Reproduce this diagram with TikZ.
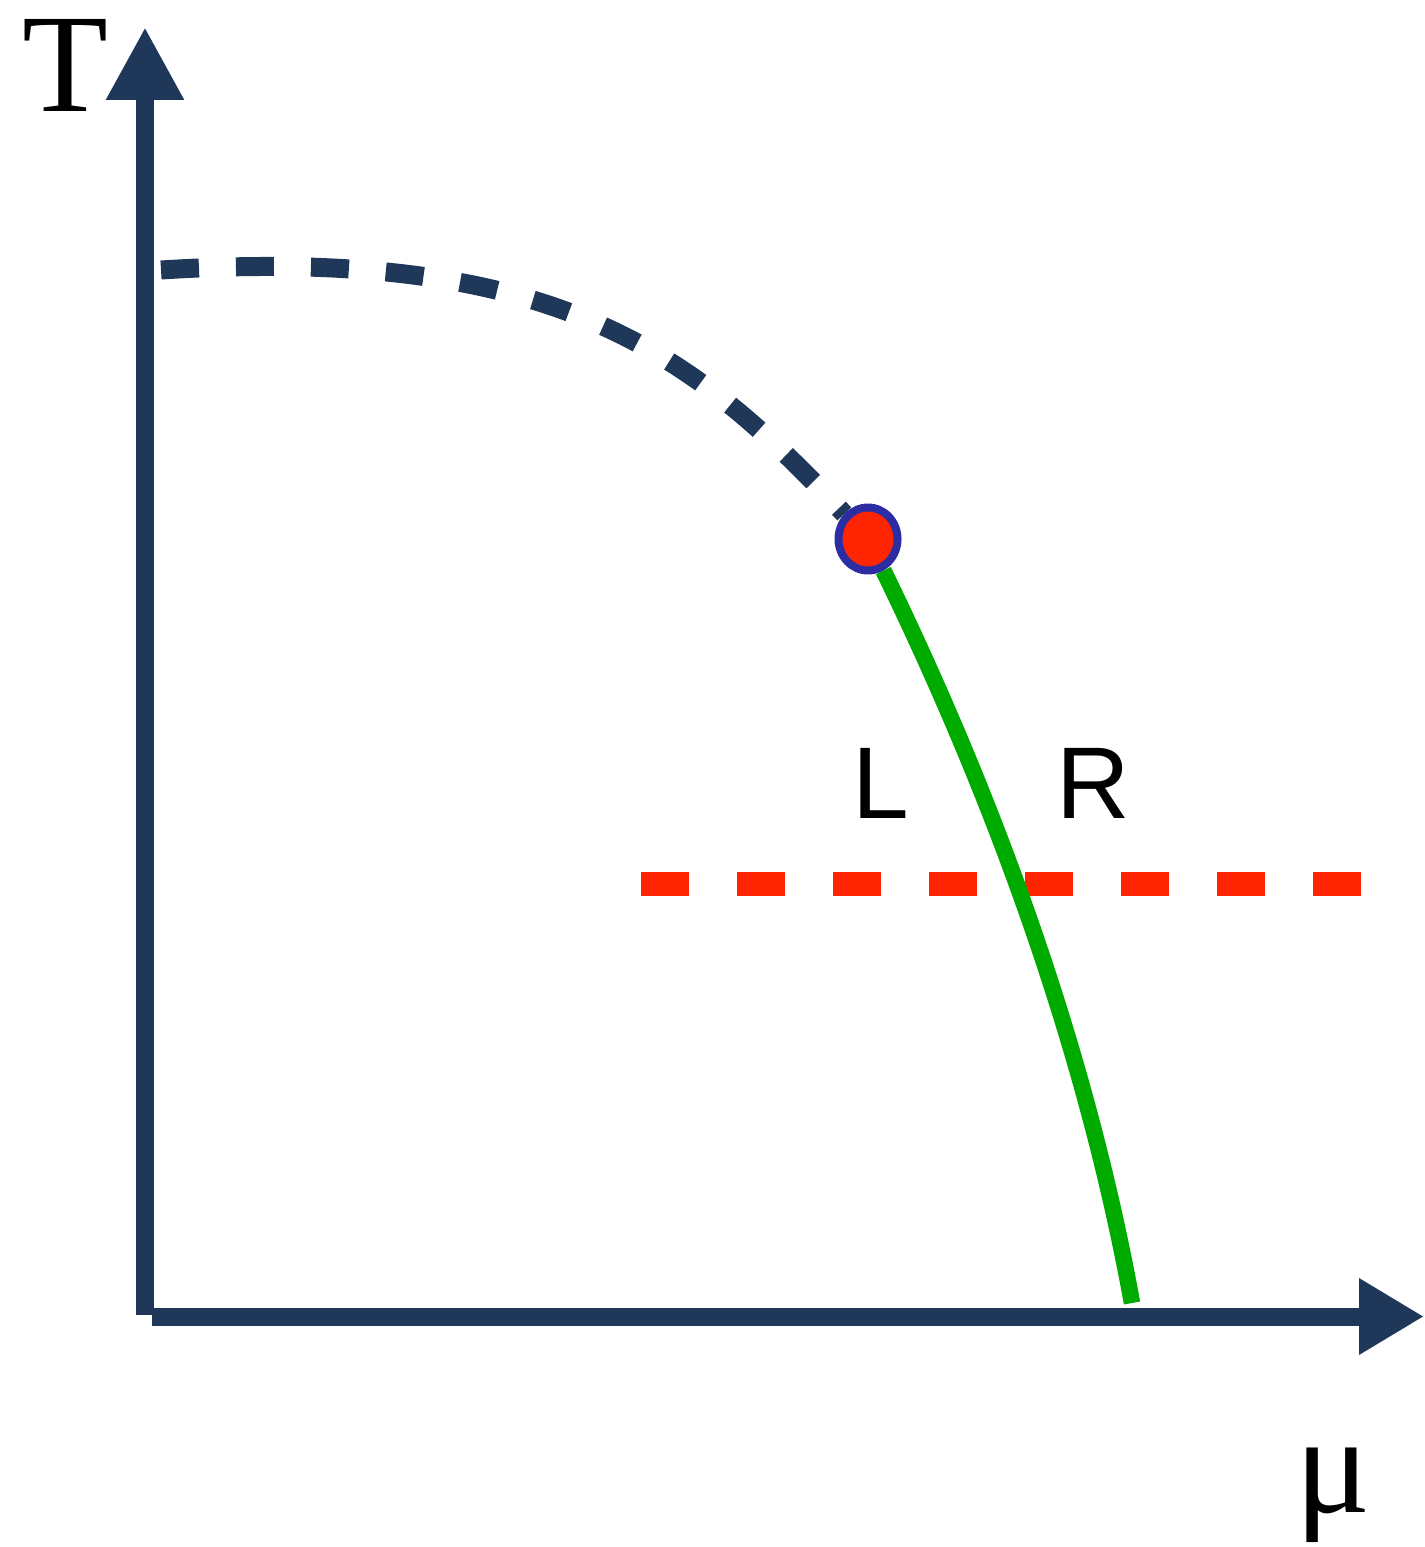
\documentclass[tikz,border=0pt]{standalone}
\usepackage{fontspec}
\setmainfont{Liberation Serif}
\newfontfamily\lblsans{Liberation Sans}
\usepackage{tikz}
\usetikzlibrary{arrows.meta,shapes.geometric,backgrounds}
\definecolor{axisc}{HTML}{1F3759}
\definecolor{foline}{HTML}{00AB00}
\definecolor{probe}{HTML}{FF2500}
\definecolor{rim}{HTML}{2C2CA3}
\tikzset{
  axisline/.style={draw=axisc, line width=1.8mm},
  axlbl/.style={inner sep=0pt, anchor=base, font=\fontsize{40}{48}\selectfont},
  sidelbl/.style={inner sep=0pt, anchor=base, font=\lblsans\fontsize{29}{35}\selectfont},
  % crossover, first order line, probing line
  xover/.style={draw=axisc, line width=1.9mm, dash pattern=on 3.8mm off 3.7mm},
  foline/.style={draw=foline, line width=1.65mm},
  probeline/.style={draw=probe, line width=2.4mm, dash pattern=on 4.8mm off 4.8mm},
  critpt/.style={ellipse, draw=rim, fill=probe, line width=0.8mm, inner sep=0pt,
                 minimum width=5.9mm, minimum height=6.3mm},
}
\begin{document}
\begin{tikzpicture}[x=0.1mm, y=-0.1mm]
  \useasboundingbox (0,0) rectangle (1424,1547);

  % axes
  \coordinate (ybot) at (145,1315);
  \coordinate (ytop) at (145,27);
  \coordinate (xleft) at (152,1316.5);
  \coordinate (xright) at (1424,1316.5);
  \draw[axisline, -{Triangle[length=7.3mm,width=7.3mm]}] (ybot) -- (ytop);
  \draw[axisline, -{Triangle[length=6.5mm,width=7.2mm]}] (xleft) -- (xright);
  \node[axlbl] (tlab) at (65,112) {T};
  \node[axlbl] (mulab) at (1333,1512) {μ};

  % critical point
  \node[critpt] (crit) at (868,539) {};

  \coordinate (xstart) at (161,270);
  \coordinate (foend) at (1132,1303);
  \coordinate (pleft) at (641,884);
  \coordinate (pright) at (1361,884);
  \begin{scope}[on background layer]
    \draw[xover] (xstart) .. controls (561,245) and (695,356) .. (crit);
    \draw[probeline] (pleft) -- (pright);
    \draw[foline] (crit) .. controls (1000,810) and (1088,1060) .. (foend);
  \end{scope}

  \node[sidelbl] (lside) at (881,818) {L};
  \node[sidelbl] (rside) at (1093,818) {R};
\end{tikzpicture}
\end{document}
